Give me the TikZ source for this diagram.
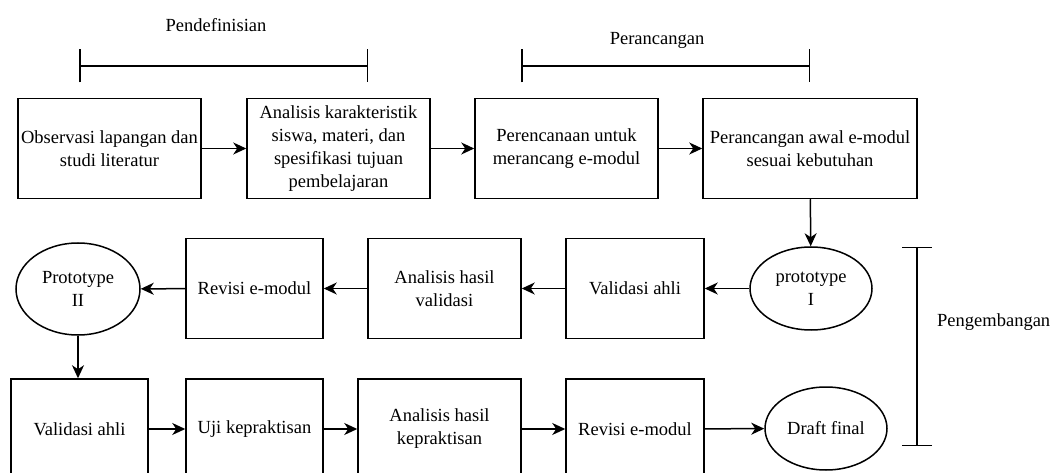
\documentclass[tikz,border=0pt]{standalone}
\usepackage{fontspec}
\setmainfont{Liberation Serif}
\usetikzlibrary{arrows.meta,shapes.geometric}

\tikzset{
    box/.style={draw, line width=1.5pt, minimum height=100pt, align=center, inner sep=3pt},
    oval/.style={draw, ellipse, line width=1.5pt, align=center, inner sep=0pt},
    flow/.style={-{Stealth[length=13pt, width=12pt, inset=4pt]}, line width=1.5pt},
    phase/.style={{Bar[width=33pt]}-{Bar[width=33pt]}, line width=1.5pt}
}

\begin{document}
\begin{tikzpicture}[x=1pt, y=-1pt, font=\rmfamily\fontsize{18.5}{23}\selectfont]

    \useasboundingbox[fill=white] (0,0) rectangle (1053,473);

    %% Row 1
    \node[box, minimum width=183pt] (obs) at (109.5,148.5) {Observasi lapangan dan\\studi literatur};
    \node[box, minimum width=183pt] (karakter) at (338.5,148.5) {Analisis karakteristik\\siswa, materi, dan\\spesifikasi tujuan\\pembelajaran};
    \node[box, minimum width=183pt] (rencana) at (566.5,148.5) {Perencanaan untuk\\merancang e-modul};
    \node[box, minimum width=214pt] (rancangawal) at (810,148.5) {Perancangan awal e-modul\\sesuai kebutuhan};

    %% Row 2
    \node[oval, minimum width=122pt, minimum height=83pt] (protoI) at (811,288.5) {prototype\\I};
    \node[box, minimum width=138pt] (validasi) at (635,288.5) {Validasi ahli};
    \node[box, minimum width=153pt] (hasilval) at (444.5,288.5) {Analisis hasil\\validasi};
    \node[box, minimum width=137pt] (revisi) at (254.5,288.5) {Revisi e-modul};
    \node[oval, minimum width=124pt, minimum height=92pt] (protoII) at (78,289) {Prototype\\II};

    %% Row 3
    \node[box, minimum width=137pt] (validasiII) at (79.5,429) {Validasi ahli};
    \node[box, minimum width=137pt] (uji) at (254.5,429) {Uji kepraktisan};
    \node[box, minimum width=163pt] (hasilprak) at (439.5,429) {Analisis hasil\\kepraktisan};
    \node[box, minimum width=138pt] (revisiII) at (635,429) {Revisi e-modul};
    \node[oval, minimum width=122pt, minimum height=83pt] (draft) at (826,428.5) {Draft final};

    % Arrows
    \draw[flow] (obs) -- (karakter);
    \draw[flow] (karakter) -- (rencana);
    \draw[flow] (rencana) -- (rancangawal);
    \draw[flow] (rancangawal) -- (protoI);
    \draw[flow] (protoI) -- (validasi);
    \draw[flow] (validasi) -- (hasilval);
    \draw[flow] (hasilval) -- (revisi);
    \draw[flow] (revisi) -- (protoII);
    \draw[flow] (protoII.south) -- (protoII.south |- validasiII.north);
    \draw[flow] (validasiII) -- (uji);
    \draw[flow] (uji) -- (hasilprak);
    \draw[flow] (hasilprak) -- (revisiII);
    \draw[flow] (revisiII) -- (draft);

    % Phases
    \coordinate (defA) at (79,66);
    \coordinate (defB) at (368,66);
    \draw[phase] (defA) -- (defB);
    \node (pendefinisian) at (216,25) {Pendefinisian};

    \coordinate (ranA) at (521,66);
    \coordinate (ranB) at (810,66);
    \draw[phase] (ranA) -- (ranB);
    \node (perancangan) at (657,40) {Perancangan};

    \coordinate (kemA) at (917,247);
    \coordinate (kemB) at (917,446);
    \draw[{Bar[width=30pt]}-{Bar[width=30pt]}, line width=1.5pt] (kemA) -- (kemB);
    \node[anchor=west, inner sep=0pt] (pengembangan) at (937,322) {Pengembangan};

\end{tikzpicture}
\end{document}
